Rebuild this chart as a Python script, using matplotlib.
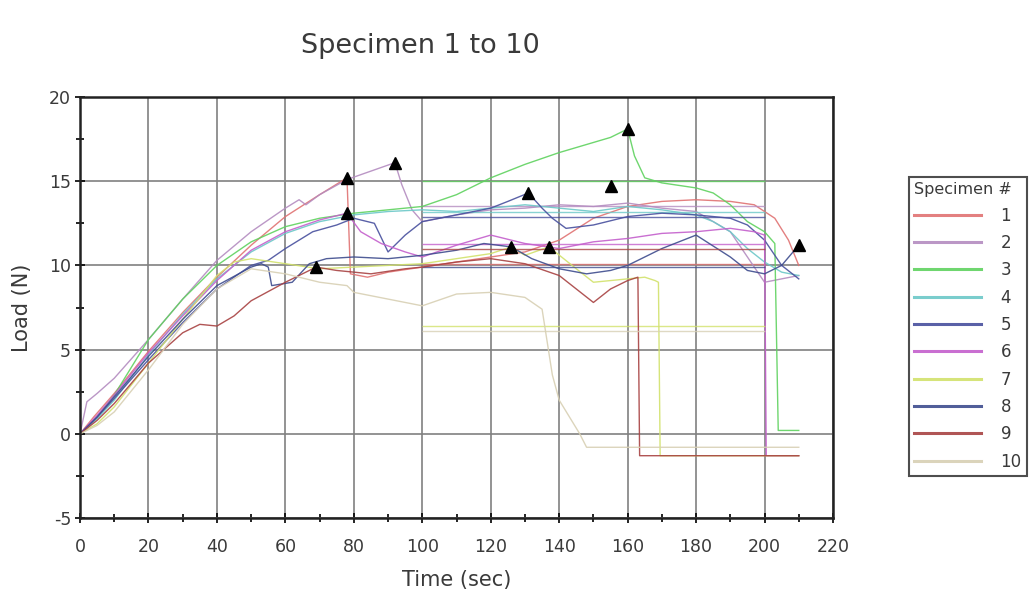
import numpy as np
import matplotlib
matplotlib.use('Agg')
import matplotlib.pyplot as plt
from matplotlib.ticker import MultipleLocator

plt.rcParams['axes.unicode_minus'] = False

# ---- data (time in s, load in N) ----
labels = ['1', '2', '3', '4', '5', '6', '7', '8', '9', '10']
colors = ['#e07272', '#b48cc0', '#5fd25f', '#6cc8c8', '#48509e',
          '#c45fcc', '#d2e26c', '#3e4c8e', '#a84242', '#d8d0b4']

t1 = [0, 4, 10, 20, 30, 40, 50, 60, 70, 78, 79, 84, 90, 100, 110, 120, 130, 140, 150, 160, 170, 180, 190, 197, 203, 207, 210]
y1 = [0, 1.0, 2.4, 4.9, 7.2, 9.3, 11.2, 12.9, 14.2, 15.2, 9.5, 9.3, 9.6, 9.9, 10.2, 10.5, 10.8, 11.5, 12.8, 13.5, 13.8, 13.9, 13.8, 13.6, 12.8, 11.5, 10.0]

t2 = [0, 2, 5, 10, 20, 30, 40, 50, 60, 64, 66, 70, 78, 85, 92, 94, 97, 100, 105, 110, 120, 130, 140, 150, 160, 170, 180, 190, 195, 200, 205, 210]
y2 = [0, 1.9, 2.4, 3.3, 5.6, 8.0, 10.3, 12.0, 13.4, 13.9, 13.6, 14.2, 15.1, 15.6, 16.1, 14.8, 13.3, 12.6, 12.8, 13.0, 13.3, 13.4, 13.6, 13.5, 13.7, 13.4, 13.2, 12.0, 10.5, 9.0, 9.2, 9.4]

t3 = [0, 5, 10, 20, 30, 40, 50, 60, 70, 80, 90, 100, 110, 120, 130, 140, 150, 155, 160, 162, 165, 170, 180, 185, 190, 195, 200, 203, 204, 210]
y3 = [0, 1.0, 2.3, 5.6, 8.0, 10.0, 11.4, 12.3, 12.8, 13.1, 13.3, 13.5, 14.2, 15.2, 16.0, 16.7, 17.3, 17.6, 18.1, 16.5, 15.2, 14.9, 14.6, 14.3, 13.6, 12.6, 12.0, 11.3, 0.2, 0.2]

t4 = [0, 5, 10, 20, 30, 40, 50, 60, 70, 80, 90, 100, 110, 120, 130, 140, 150, 160, 170, 180, 185, 190, 195, 200, 205, 210]
y4 = [0, 0.9, 2.0, 4.7, 7.1, 9.2, 10.8, 11.9, 12.6, 13.0, 13.2, 13.3, 13.2, 13.4, 13.6, 13.4, 13.2, 13.5, 13.3, 13.0, 12.6, 12.0, 11.0, 10.2, 9.6, 9.4]

t5 = [0, 5, 10, 20, 30, 40, 50, 55, 60, 68, 75, 80, 86, 90, 95, 100, 105, 110, 120, 125, 131, 135, 138, 142, 150, 160, 170, 180, 190, 195, 200, 205, 210]
y5 = [0, 1.0, 2.1, 4.4, 6.6, 8.6, 10.0, 10.3, 11.0, 12.0, 12.4, 12.8, 12.5, 10.8, 11.8, 12.6, 12.8, 13.0, 13.4, 13.8, 14.3, 13.4, 12.8, 12.2, 12.4, 12.9, 13.1, 13.0, 12.8, 12.4, 11.5, 10.0, 9.2]

t6 = [0, 5, 10, 20, 30, 40, 50, 60, 70, 78, 82, 88, 95, 100, 110, 120, 130, 140, 150, 160, 170, 180, 190, 197, 200, 200.5, 210]
y6 = [0, 1.1, 2.3, 4.8, 7.0, 9.1, 10.9, 12.0, 12.7, 13.1, 12.0, 11.3, 10.8, 10.5, 11.2, 11.8, 11.3, 11.0, 11.4, 11.6, 11.9, 12.0, 12.2, 12.0, 11.8, -1.3, -1.3]

t7 = [0, 5, 10, 20, 30, 40, 45, 50, 60, 70, 80, 90, 100, 110, 120, 126, 130, 137, 145, 150, 160, 165, 168, 169, 169.5, 210]
y7 = [0, 0.6, 1.6, 4.2, 6.8, 9.4, 10.2, 10.4, 10.1, 9.8, 9.9, 10.0, 10.1, 10.4, 10.7, 11.1, 10.6, 11.1, 9.8, 9.0, 9.2, 9.3, 9.1, 9.0, -1.3, -1.3]

t8 = [0, 5, 10, 20, 30, 40, 50, 53, 55, 56, 62, 67, 72, 80, 90, 100, 110, 118, 126, 132, 140, 148, 155, 160, 170, 180, 190, 195, 200, 205, 210]
y8 = [0, 1.0, 2.2, 4.6, 6.8, 8.8, 9.9, 10.1, 9.9, 8.8, 9.0, 10.1, 10.4, 10.5, 10.4, 10.6, 10.9, 11.3, 11.1, 10.4, 9.8, 9.5, 9.7, 10.0, 11.0, 11.8, 10.5, 9.7, 9.5, 10.0, 11.2]

t9 = [0, 5, 10, 20, 30, 35, 40, 45, 50, 60, 69, 75, 85, 95, 100, 110, 120, 130, 140, 145, 150, 155, 160, 163, 163.5, 210]
y9 = [0, 0.8, 1.8, 4.2, 6.0, 6.5, 6.4, 7.0, 7.9, 9.0, 9.9, 9.7, 9.5, 9.8, 9.9, 10.2, 10.4, 10.1, 9.4, 8.6, 7.8, 8.6, 9.1, 9.3, -1.3, -1.3]

t10 = [0, 5, 10, 20, 30, 40, 50, 60, 70, 78, 80, 90, 100, 110, 120, 130, 135, 138, 140, 143, 146, 148, 210]
y10 = [0, 0.5, 1.3, 3.8, 6.5, 8.6, 9.8, 9.5, 9.0, 8.8, 8.4, 8.0, 7.6, 8.3, 8.4, 8.1, 7.4, 3.5, 2.0, 1.0, 0.0, -0.8, -0.8]

times = [t1, t2, t3, t4, t5, t6, t7, t8, t9, t10]
loads = [y1, y2, y3, y4, y5, y6, y7, y8, y9, y10]

# average-load reference lines drawn between 100 s and 200 s
plateau = [10.1, 13.5, 15.0, 13.2, 12.9, 11.3, 6.4, 9.9, 11.0, 6.1]
plateau_start, plateau_end = 100, 200

# failure markers
peak_time = [69, 78, 78, 92, 126, 131, 137, 155, 160, 210]
peak_load = [9.9, 15.2, 13.1, 16.1, 11.1, 14.3, 11.1, 14.7, 18.1, 11.2]

fig = plt.figure(figsize=(10.34, 6.07), dpi=100)
ax = fig.add_axes([0.0774, 0.1466, 0.7282, 0.6936])

for t, y, c, lab, p in zip(times, loads, colors, labels, plateau):
    ax.plot(t, y, color=c, lw=1.0, alpha=0.9, label=lab)
    ax.hlines(p, plateau_start, plateau_end, color=c, lw=1.0, alpha=0.8)

ax.plot(peak_time, peak_load, ls='none', marker='^', ms=9, color='black', zorder=5)

ax.set_xlim(0, 220)
ax.set_ylim(-5, 20)
ax.xaxis.set_major_locator(MultipleLocator(20))
ax.xaxis.set_minor_locator(MultipleLocator(10))
ax.yaxis.set_major_locator(MultipleLocator(5))
ax.yaxis.set_minor_locator(MultipleLocator(2.5))
ax.grid(True, which='major', color='#808080', lw=1.2)
ax.set_axisbelow(True)
ax.tick_params(which='both', direction='inout', color='black', labelcolor='#3a3a3a', labelsize=12.5)
ax.tick_params(which='major', length=7, width=1.2)
ax.tick_params(which='minor', length=6, width=1.2)
ax.tick_params(axis='x', pad=11)
ax.tick_params(axis='y', pad=3)
for s in ax.spines.values():
    s.set_linewidth(1.8)
    s.set_color('#222222')

ax.set_xlabel('Time (sec)', fontsize=15, color='#3a3a3a', labelpad=10)
ax.set_ylabel('Load (N)', fontsize=15, color='#3a3a3a', labelpad=12)

fig.text(0.407, 0.925, 'Specimen 1 to 10', ha='center', va='center', fontsize=19.5, color='#3a3a3a')

leg = fig.legend(loc='upper left', bbox_to_anchor=(0.879, 0.708), title='Specimen #',
                 fontsize=12, title_fontsize=11.5, frameon=True, fancybox=False,
                 handlelength=4.0, handletextpad=1.2, labelspacing=0.56,
                 borderpad=0.3, borderaxespad=0, alignment='left')
leg.get_frame().set_edgecolor('#222222')
leg.get_frame().set_linewidth(1.5)
for txt in leg.get_texts():
    txt.set_color('#3a3a3a')
leg.get_title().set_color('#3a3a3a')
for h in leg.get_lines():
    h.set_linewidth(2.2)

fig.savefig('out.png', dpi=100, facecolor='white')
